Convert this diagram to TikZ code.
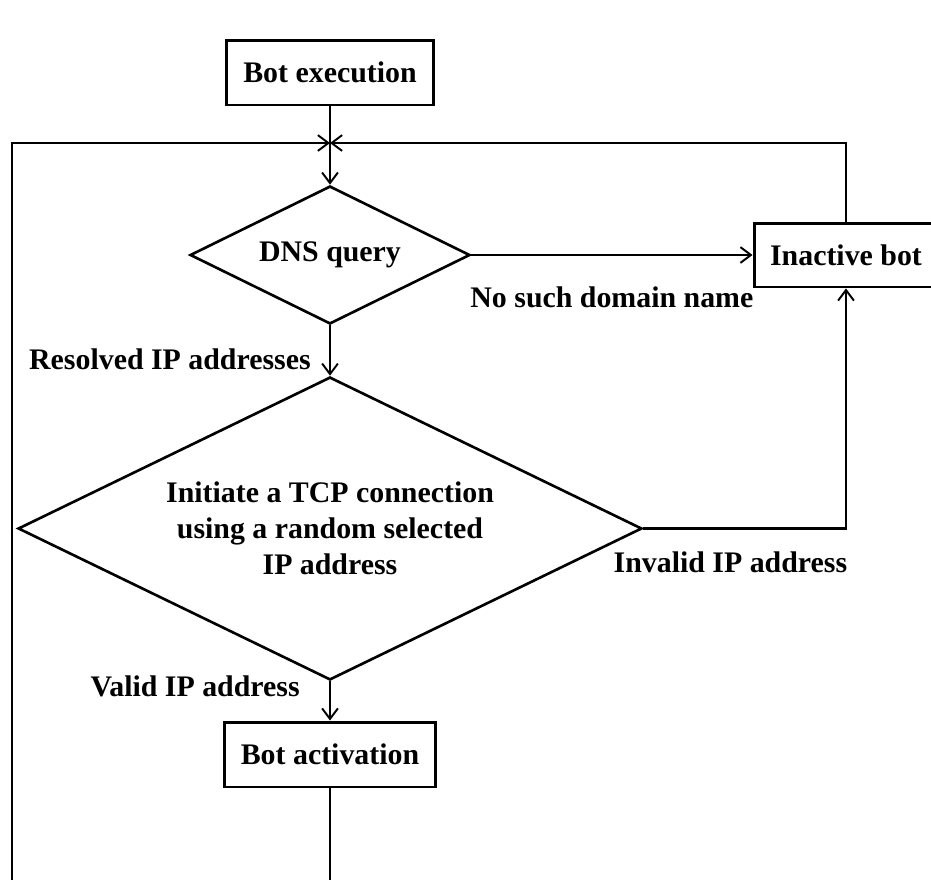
\documentclass[tikz,border=0pt]{standalone}
\usepackage{fontspec}
\setmainfont{Liberation Serif}
\usetikzlibrary{shapes.geometric,arrows.meta}
\tikzset{
	box/.style={draw, line width=1.7pt, inner sep=0pt, font=\bfseries},
	decision/.style={draw, diamond, aspect=2.05, line width=1.5pt, inner sep=0pt, align=center, font=\bfseries},
	flow/.style={line width=1.5pt, -{Straight Barb[length=6pt,width=9pt,line width=1.1pt]}},
	lbl/.style={inner sep=0pt, font=\bfseries}
}

\begin{document}
\begin{tikzpicture}[x=0.02cm, y=-0.02cm]
			%%%%% START %%%%%
			\fontsize{17}{20.5}\selectfont
			\useasboundingbox (0,0) rectangle (931,880);
			\clip (0,0) rectangle (931,880);
			
			\node[box, minimum width=4.14cm, minimum height=1.3cm] (exec) at (330, 72.5) {Bot execution};
			\node[decision, minimum width=5.6cm, minimum height=2.76cm] (dns) at (330, 255) {DNS query};
			\node[box, minimum width=3.68cm, minimum height=1.28cm] (inact) at (846, 255) {Inactive bot};
			\node[decision, minimum width=12.48cm, minimum height=6.06cm] (tcp) at (330, 528.5)
				{Initiate a TCP connection\\using a random selected\\IP address};
			\node[box, minimum width=4.24cm, minimum height=1.3cm] (act) at (330, 754.5) {Bot activation};
			
			\coordinate (join) at (330, 143);
			\coordinate (loopbot) at (12, 900);
			
			\draw[flow] (exec) -- (dns);
			\draw[flow] (dns.east) -- node[lbl, midway, yshift=-0.84cm] {No such domain name} (inact.west);
			\draw[flow] (inact.north) |- (join);
			\draw[flow] (dns.south) -- node[lbl, pos=0.68, anchor=east, xshift=-0.36cm] {Resolved IP addresses} (tcp.north);
			\draw[flow] (tcp.east) -| node[lbl, pos=0.215, yshift=-0.68cm] {Invalid IP address} (inact.south);
			\draw[flow] (tcp.south) -- node[lbl, pos=0.14, anchor=east, xshift=-0.58cm] {Valid IP address} (act.north);
			\draw[flow] (act.south) |- (loopbot) |- (join);
			
			%%%%% END %%%%%
		\end{tikzpicture}
\end{document}
